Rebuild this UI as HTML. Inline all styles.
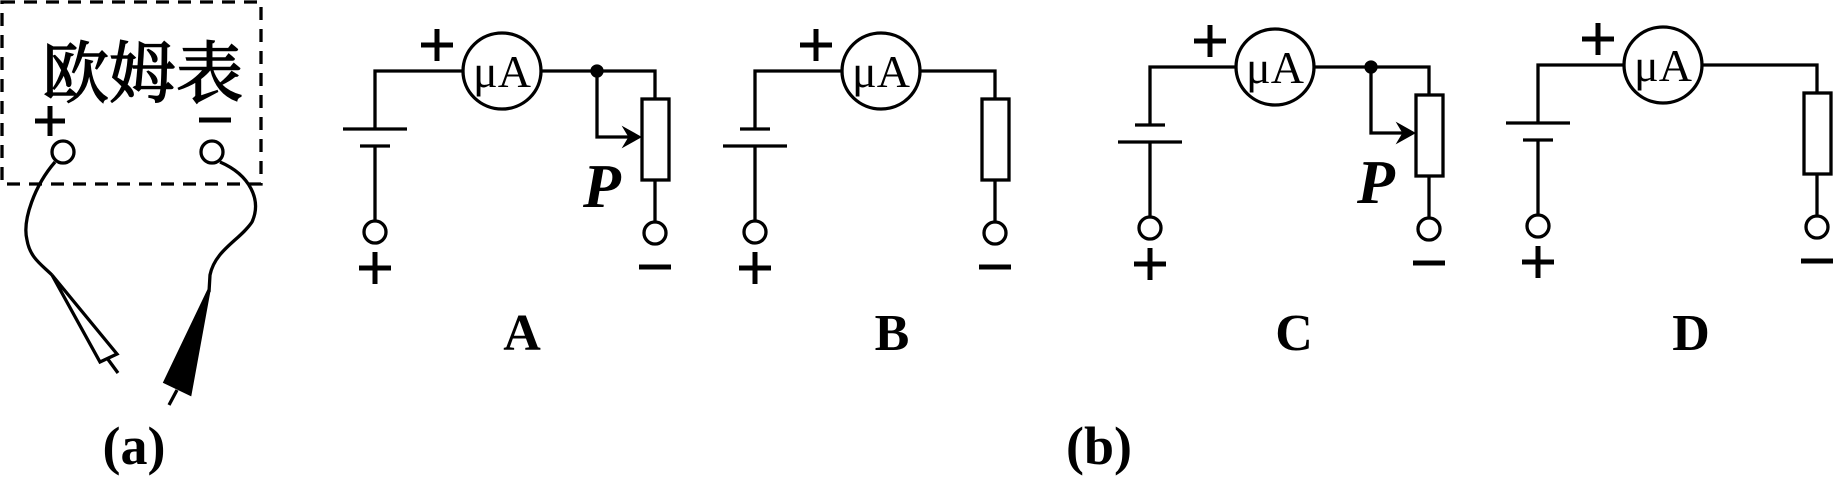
<!DOCTYPE html>
<html><head><meta charset="utf-8"><style>
html,body{margin:0;padding:0;background:#fff;}
svg{display:block;}
text{font-family:"Liberation Serif","Noto Serif CJK SC",serif;fill:#000;}
</style></head><body>
<svg width="1833" height="483" viewBox="0 0 1833 483" xmlns="http://www.w3.org/2000/svg">
<g fill="none" stroke="#000" stroke-width="3.3">
<g>
<rect x="2" y="2" width="259" height="182" stroke-dasharray="13,9"/>
<circle cx="63" cy="152" r="11"/>
<circle cx="212" cy="152" r="11"/>
<path d="M55 162 C35 185 22 220 27 240 C30 258 42 265 52 275"/>
<path d="M52 275 L100 362 L117 354 Z"/>
<path d="M107 358 L118 373"/>
<path d="M220 162 C250 175 262 200 252 222 C240 240 215 250 210 275 L209 292"/>
<path d="M209 290 L165 382 L190 394 Z" fill="#000"/>
<path d="M177 390 L169 405"/>
<path d="M50 106 V136 M35 121 H65" stroke-width="5"/>
<path d="M199 120 H231" stroke-width="5"/>
</g>
</g>
<text x="42" y="97" font-size="67" stroke="#000" stroke-width="1.5" style="font-family:'Noto Serif CJK SC',serif">欧姆表</text>
<text x="134" y="464" font-size="54" font-weight="bold" text-anchor="middle">(a)</text>
<text x="1099" y="464" font-size="54" font-weight="bold" text-anchor="middle">(b)</text>
<g id="circuits"></g>
</svg>
<script>
var cxs=[375,755,1150,1538];
var tops=[71,71,67,65];
var ams=[502,881,1275,1663];
var rws=[655,995,1429,1817];
var longTop=[true,false,false,true];
var rheo=[true,false,true,false];
var names=['A','B','C','D'];
var labelX=[522,892,1294,1691];
var g=document.getElementById('circuits');
var NS='http://www.w3.org/2000/svg';
function mk(tag,attrs,parent){var e=document.createElementNS(NS,tag);for(var k in attrs)e.setAttribute(k,attrs[k]);(parent||g).appendChild(e);return e;}
function plus(x,y,c){return mk('path',{d:'M'+x+' '+(y-16)+' V'+(y+16)+' M'+(x-16)+' '+y+' H'+(x+16),'stroke-width':5},c);}
for(var i=0;i<4;i++){
 var c=mk('g',{fill:'none',stroke:'#000','stroke-width':3.3});
 
 
 var L=cxs[i],T=tops[i],A=ams[i],R=rws[i];
 var p1=T+58,p2=T+75;
 mk('path',{d:'M'+L+' '+(p1)+' V'+T+' H'+(A-39)+' M'+(A+39)+' '+T+' H'+R+' V'+(T+28)},c);
 var longY=longTop[i]?p1:p2, shortY=longTop[i]?p2:p1;
 var pl=mk('path',{d:'M'+(L-32)+' '+longY+' H'+(L+32)+' M'+(L-15)+' '+shortY+' H'+(L+15)},c);
 
 
 mk('path',{d:'M'+L+' '+p2+' V'+(T+150)},c);
 var t1=mk('circle',{cx:L,cy:T+161,r:11},c);
 
 
 var am=mk('ellipse',{cx:A,cy:T,rx:39,ry:38},c);
 
 
 var rs=mk('rect',{x:R-13,y:T+28,width:27,height:81},c);
 
 
 mk('path',{d:'M'+R+' '+(T+109)+' V'+(T+151)},c);
 var t2=mk('circle',{cx:R,cy:T+162,r:11},c);
 
 
 if(rheo[i]){
  var n=R-58;
  var dot=mk('circle',{cx:n,cy:T,r:5,fill:'#000'},c);
  
  
  var sl=mk('path',{d:'M'+n+' '+T+' V'+(T+66)+' H'+(R-22)},c);
  
  
  var ar=mk('path',{d:'M'+(R-14)+' '+(T+66)+' L'+(R-32)+' '+(T+56)+' L'+(R-26)+' '+(T+66)+' L'+(R-32)+' '+(T+76)+' Z',fill:'#000','stroke-width':1},c);
  
  
  var P=mk('text',{x:R-72,y:T+136,'font-size':62,'font-weight':'bold','font-style':'italic',stroke:'none',fill:'#000'},c);
  P.textContent='P';
  
  
 }
 var mu=mk('text',{x:A,y:T+16,'font-size':46,'text-anchor':'middle',stroke:'none',fill:'#000'},c);
 mu.textContent='μA';
 
 
 var ap=plus(A-65,T-26,c);
 
 
 var bp=plus(L,T+197,c);
 
 
 var bm=mk('path',{d:'M'+(R-16)+' '+(T+196)+' H'+(R+16),'stroke-width':5},c);
 
 
 var lb=mk('text',{x:labelX[i],y:350,'font-size':52,'font-weight':'bold','text-anchor':'middle',stroke:'none',fill:'#000'},c);
 lb.textContent=names[i];
 
 
}
</script>
</body></html>
